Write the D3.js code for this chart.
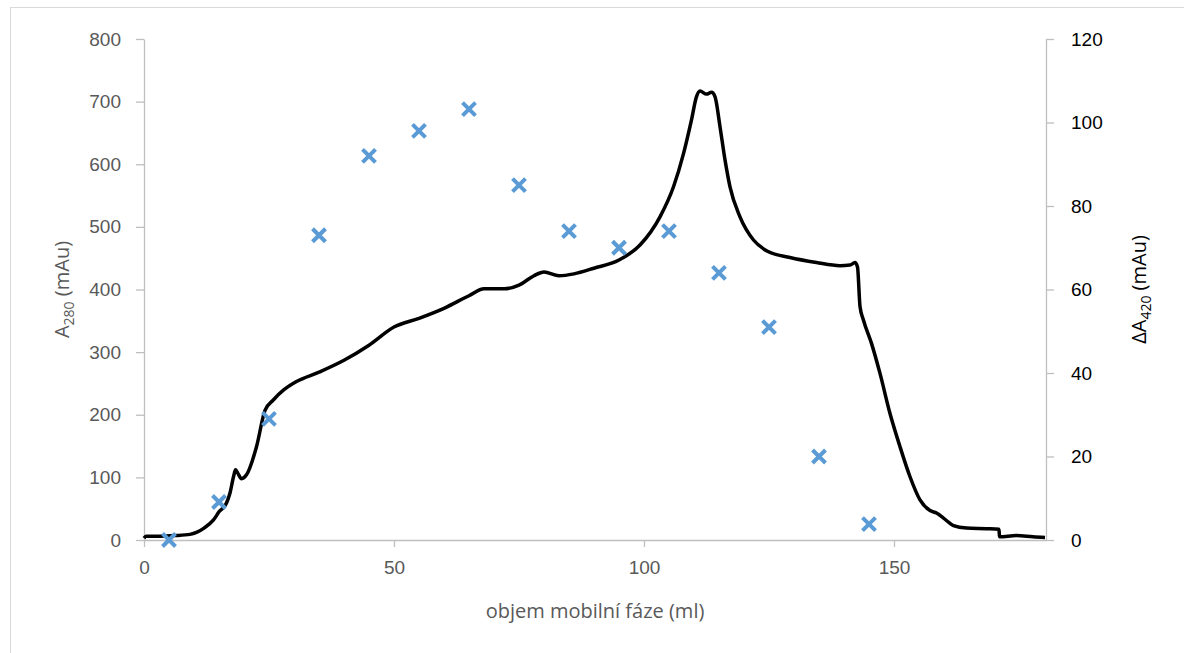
<!DOCTYPE html>
<html>
<head>
<meta charset="utf-8">
<script src="https://cdn.jsdelivr.net/npm/d3@7"></script>
<style>
  body { margin: 0; background: #fff; }
  svg { display: block; font-family: "Open Sans", "Noto Sans", sans-serif; }
</style>
</head>
<body>
<svg id="chart" width="1184" height="653"></svg>
<script>
// A280 trace (ml, mAu)
var traceMl = [0, 0.4, 3.2, 6.2, 9.2, 10.5, 12, 13.9, 15, 16.5, 17.2, 17.9, 18.3, 18.8, 19.5, 20.5, 22.5, 24.2, 25.9, 28, 30.5,
  35, 40, 45, 50, 55, 60, 65, 68, 72, 75, 78, 80, 83, 86, 90, 95, 99.2, 103.2, 105.9, 107.9, 109.5, 110.5, 111.2, 112.5, 113.5, 114.2,
  115.2, 116.2, 117.2, 119.2, 121.9, 124.5, 129.2, 134.5, 139.2, 141.2, 142.2, 142.7, 143.2, 143.9, 145.5, 147.2, 149.2, 151.2,
  153.2, 155.2, 157.2, 158.5, 159.9, 161.9, 164.5, 168.5, 171, 171.1, 174.5, 177.8, 180.2];
var traceA280 = [3, 6, 6, 7, 9, 12, 19, 32, 45, 59, 75, 101, 112, 106, 98, 104, 149, 207, 224, 240, 253,
  268, 287, 311, 340, 354, 370, 390, 401, 401, 407, 422, 428, 422, 425, 434, 447, 471, 516, 564, 617, 671, 708, 717, 712, 715, 708,
  660, 607, 564, 516, 479, 462, 451, 443, 438, 439, 443, 436, 373, 351, 314, 266, 202, 149,
  101, 64, 47, 43, 35, 23, 19, 18, 17, 5, 7, 5, 4];

// ΔA420 fractions (ml, mAu)
var fractionMl = [5, 15, 25, 35, 45, 55, 65, 75, 85, 95, 105, 115, 125, 135, 145];
var fractionA420 = [0, 9.1, 29, 73, 92, 98, 103.2, 85, 74, 70, 74, 64, 51, 20, 3.8];

var xTicks = [0, 50, 100, 150];
var leftTicks = [0, 100, 200, 300, 400, 500, 600, 700, 800];
var rightTicks = [0, 20, 40, 60, 80, 100, 120];

var svg = d3.select("#chart");
var plotL = 144, plotR = 1046, plotT = 39, plotB = 540;

var x = d3.scaleLinear().domain([0, 180.4]).range([plotL, plotR]);
var yL = d3.scaleLinear().domain([0, 800]).range([plotB, plotT]);
var yR = d3.scaleLinear().domain([0, 120]).range([plotB, plotT]);

var grey = "#595959", axisGrey = "#bfbfbf";

// chart frame
svg.append("rect")
  .attr("x", 10.5).attr("y", 7.5).attr("width", 1200).attr("height", 700)
  .attr("fill", "none").attr("stroke", "#d9d9d9");

function styleAxis(g, color) {
  g.select(".domain").attr("stroke", axisGrey).attr("stroke-width", 1.3);
  g.selectAll(".tick line").attr("stroke", axisGrey).attr("stroke-width", 1.3);
  g.selectAll(".tick text").attr("fill", color).style("font-size", "19px");
}

var gx = svg.append("g").attr("transform", "translate(0," + plotB + ")")
  .call(d3.axisBottom(x).tickValues(xTicks).tickSize(7).tickPadding(14).tickSizeOuter(0));
styleAxis(gx, grey);

var gl = svg.append("g").attr("transform", "translate(" + plotL + ",0)")
  .call(d3.axisLeft(yL).tickValues(leftTicks).tickSize(8).tickPadding(15).tickSizeOuter(0));
styleAxis(gl, grey);

var gr = svg.append("g").attr("transform", "translate(" + plotR + ",0)")
  .call(d3.axisRight(yR).tickValues(rightTicks).tickSize(8).tickPadding(17).tickSizeOuter(0));
styleAxis(gr, "#000");

// trace
var line = d3.line()
  .x(function(d, i) { return x(traceMl[i]); })
  .y(function(d) { return yL(d); })
  .curve(d3.curveMonotoneX);

svg.append("path")
  .datum(traceA280)
  .attr("d", line)
  .attr("fill", "none")
  .attr("stroke", "#000")
  .attr("stroke-width", 3.5)
  .attr("stroke-linejoin", "round");

// fraction markers
var m = 6.5;
svg.append("g").selectAll("path")
  .data(fractionA420)
  .join("path")
  .attr("d", function(d, i) {
    var cx = x(fractionMl[i]), cy = yR(d);
    return "M" + (cx - m) + "," + (cy - m) + "L" + (cx + m) + "," + (cy + m) +
      "M" + (cx - m) + "," + (cy + m) + "L" + (cx + m) + "," + (cy - m);
  })
  .attr("stroke", "#5b9bd5")
  .attr("stroke-width", 4)
  .attr("fill", "none");

// axis titles
svg.append("text")
  .attr("x", (plotL + plotR) / 2).attr("y", 618)
  .attr("text-anchor", "middle")
  .attr("fill", grey).style("font-size", "20px")
  .text("objem mobilní fáze (ml)");

var lt = svg.append("text")
  .attr("transform", "translate(69," + (plotB + plotT) / 2 + ") rotate(-90)")
  .attr("text-anchor", "middle")
  .attr("fill", grey).style("font-size", "20px");
lt.append("tspan").text("A");
lt.append("tspan").attr("dy", 5).style("font-size", "14px").text("280");
lt.append("tspan").attr("dy", -5).text(" (mAu)");

var rt = svg.append("text")
  .attr("transform", "translate(1146," + (plotB + plotT) / 2 + ") rotate(-90)")
  .attr("text-anchor", "middle")
  .attr("fill", "#000").style("font-size", "20px");
rt.append("tspan").text("ΔA");
rt.append("tspan").attr("dy", 5).style("font-size", "14px").text("420");
rt.append("tspan").attr("dy", -5).text(" (mAu)");
</script>
</body>
</html>
